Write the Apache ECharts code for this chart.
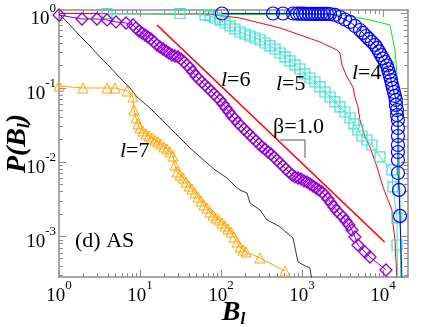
<!DOCTYPE html>
<html><head><meta charset="utf-8">
<script src="https://cdn.jsdelivr.net/npm/echarts@6/dist/echarts.min.js"></script>
<style>html,body{margin:0;padding:0;background:#fff}#c{width:423px;height:327px}</style>
</head><body><div id="c"></div>
<script>
// ---- data (values stored as log10 exponents) ----
// l=4 : blue circles
const l4_log10B = [2.012,2.642,2.765,2.889,2.938,2.975,3.012,3.049,3.086,3.123,3.160,3.198,3.235,3.272,3.309,3.346,3.407,3.469,3.531,3.593,3.654,3.716,3.753,3.790,3.827,3.864,3.901,3.926,3.951,3.975,4.000,4.025,4.049,4.062,4.074,4.086,4.099,4.111,4.123,4.136,4.148,4.160,4.160,4.173,4.173,4.185,4.185,4.185,4.185,4.185,4.185,4.185,4.198,4.210,4.235];
const l4_log10P = [0,0,0,0,-0.002,-0.003,-0.003,-0.004,-0.004,-0.005,-0.005,-0.005,-0.006,-0.006,-0.006,-0.007,-0.020,-0.047,-0.081,-0.114,-0.168,-0.222,-0.262,-0.303,-0.343,-0.384,-0.424,-0.464,-0.511,-0.559,-0.606,-0.653,-0.700,-0.747,-0.794,-0.841,-0.895,-0.949,-1.003,-1.057,-1.110,-1.164,-1.231,-1.299,-1.366,-1.433,-1.541,-1.649,-1.770,-1.864,-1.972,-2.147,-2.375,-2.725,-3.6];
// green line
const green_log10B = [0,3.506,3.840,4.086,4.148,4.185,4.198,4.210,4.222];
const green_log10P = [0,-0.020,-0.087,-0.155,-0.491,-0.989,-1.837,-2.510,-3.6];
// l=5 : turquoise squares
const l5_log10B = [0.593,1.494,1.802,1.864,1.926,1.988,2.049,2.111,2.173,2.235,2.296,2.358,2.420,2.481,2.543,2.605,2.667,2.728,2.790,2.852,2.914,2.975,3.037,3.099,3.160,3.222,3.284,3.346,3.407,3.469,3.531,3.593,3.642,3.691,3.741,3.802,3.864,3.963,4.111,4.123,4.173,4.173,4.185];
const l5_log10P = [0,0,-0.020,-0.034,-0.061,-0.087,-0.128,-0.168,-0.209,-0.249,-0.276,-0.303,-0.330,-0.357,-0.397,-0.437,-0.478,-0.532,-0.585,-0.639,-0.693,-0.747,-0.814,-0.868,-0.922,-0.989,-1.057,-1.124,-1.191,-1.258,-1.326,-1.407,-1.487,-1.568,-1.649,-1.703,-1.770,-1.931,-2.106,-2.335,-2.752,-3.116,-3.6];
// red line
const red_log10B = [0,1.827,2.235,2.728,2.975,3.222,3.432,3.469,3.494,3.556,3.630,3.654,3.691,3.716,3.778,3.840,3.926,4.000,4.062,4.111,4.123,4.148,4.173];
const red_log10P = [0,-0.007,-0.061,-0.195,-0.289,-0.384,-0.491,-0.532,-0.693,-0.855,-0.989,-1.124,-1.258,-1.433,-1.662,-1.797,-2.066,-2.335,-2.510,-2.645,-2.820,-3.048,-3.6];
// l=6 : violet diamonds
const l6_log10B = [0,0.284,0.469,0.593,0.704,0.827,0.914,0.951,0.988,1.025,1.062,1.099,1.136,1.173,1.210,1.247,1.284,1.321,1.358,1.395,1.432,1.469,1.506,1.543,1.580,1.617,1.654,1.691,1.728,1.765,1.802,1.840,1.877,1.914,1.951,1.988,2.025,2.062,2.099,2.136,2.173,2.210,2.247,2.284,2.321,2.358,2.395,2.432,2.469,2.506,2.543,2.580,2.617,2.654,2.691,2.728,2.765,2.802,2.840,2.877,2.914,2.951,2.988,3.025,3.062,3.099,3.136,3.173,3.210,3.247,3.284,3.321,3.358,3.395,3.432,3.469,3.506,3.543,3.580,3.617,3.654,3.691,3.778,3.840,4.037];
const l6_log10P = [-0.020,-0.074,-0.074,-0.087,-0.114,-0.128,-0.155,-0.195,-0.236,-0.262,-0.289,-0.316,-0.343,-0.384,-0.424,-0.451,-0.478,-0.505,-0.532,-0.559,-0.572,-0.585,-0.612,-0.653,-0.693,-0.734,-0.787,-0.841,-0.882,-0.922,-0.962,-1.003,-1.043,-1.084,-1.124,-1.164,-1.218,-1.272,-1.326,-1.380,-1.420,-1.474,-1.514,-1.555,-1.595,-1.635,-1.676,-1.716,-1.756,-1.797,-1.824,-1.864,-1.891,-1.931,-1.972,-2.012,-2.052,-2.093,-2.133,-2.174,-2.200,-2.214,-2.227,-2.254,-2.268,-2.295,-2.322,-2.349,-2.376,-2.402,-2.443,-2.497,-2.550,-2.604,-2.658,-2.699,-2.739,-2.793,-2.847,-2.914,-3.008,-3.116,-3.210,-3.277,-3.452];
// l=7 : orange triangles
const l7_log10B = [0,0.296,0.593,0.691,0.840,0.914,0.926,0.951,0.975,1.000,1.037,1.074,1.111,1.148,1.185,1.222,1.259,1.296,1.333,1.370,1.407,1.432,1.457,1.494,1.531,1.568,1.605,1.642,1.679,1.716,1.753,1.790,1.827,1.864,1.901,1.938,1.975,2.012,2.049,2.086,2.123,2.160,2.198,2.235,2.272,2.309,2.481,2.790];
const l7_log10P = [-0.976,-1.003,-1.003,-1.003,-1.043,-1.124,-1.299,-1.406,-1.487,-1.541,-1.581,-1.622,-1.649,-1.676,-1.703,-1.729,-1.756,-1.797,-1.824,-1.864,-1.918,-2.039,-2.133,-2.174,-2.214,-2.268,-2.322,-2.362,-2.416,-2.470,-2.524,-2.577,-2.618,-2.672,-2.712,-2.752,-2.779,-2.820,-2.860,-2.900,-2.941,-3.008,-3.075,-3.143,-3.183,-3.210,-3.291,-3.466];
// black line
const black_log10B = [0,0.136,0.259,0.383,0.506,0.630,0.753,0.877,0.963,1.123,1.247,1.370,1.494,1.617,1.741,1.827,1.926,2.074,2.173,2.235,2.321,2.358,2.481,2.568,2.667,2.728,2.889,2.951,3.037,3.099,3.123];
const black_log10P = [-0.007,-0.155,-0.303,-0.437,-0.585,-0.720,-0.868,-1.003,-1.124,-1.272,-1.406,-1.541,-1.676,-1.810,-1.931,-2.012,-2.106,-2.214,-2.322,-2.376,-2.416,-2.550,-2.645,-2.779,-2.833,-2.873,-3.022,-3.345,-3.398,-3.425,-3.6];
// reference slope line beta = 1.0 and its slope mark
const beta_log10B = [1.21, 4.02];
const beta_log10P = [-0.155, -3.075];
const slope_log10B = [2.728, 3.037, 3.037];
const slope_log10P = [-1.703, -1.703, -1.945];

// axes
const xRange = [1, 20370];
const yRange = [2.84e-4, 1.114];
const xTickExp = [0, 1, 2, 3, 4];
const yTickExp = [0, -1, -2, -3];

const FONT = 'Liberation Serif';
const AXC = '#8c8c8c';

function pts(lb, lp) { return lb.map((b, i) => [Math.pow(10, b), Math.pow(10, lp[i])]); }
function minorVals(lo, hi) {
  const out = [];
  for (let e = Math.floor(Math.log10(lo)); e <= Math.ceil(Math.log10(hi)); e++)
    for (let m = 2; m <= 9; m++) { const v = m * Math.pow(10, e); if (v > lo && v < hi) out.push(v); }
  return out;
}
const supLabel = v => '{b|10}{s|' + Math.round(Math.log10(v)) + '}';
const labelRich = {
  b: { fontFamily: FONT, fontSize: 19, lineHeight: 34, color: '#000' },
  s: { fontFamily: FONT, fontSize: 13, lineHeight: 13, verticalAlign: 'top', color: '#000' }
};

function axis(pos, range, exps, major, label, extra) {
  const majorVals = exps.map(e => Math.pow(10, e));
  return Object.assign({
    type: 'log', logBase: 10, min: range[0], max: range[1], position: pos,
    axisLine: { show: major, onZero: false, lineStyle: { color: AXC, width: 1.5 } },
    axisTick: { show: true, inside: true, length: major ? 7 : 4,
      customValues: major ? majorVals : minorVals(range[0], range[1]),
      lineStyle: { color: AXC, width: 1 } },
    axisLabel: label ? Object.assign({ show: true, customValues: majorVals, formatter: supLabel, rich: labelRich }, label) : { show: false },
    splitLine: { show: false }, minorTick: { show: false }, minorSplitLine: { show: false }
  }, extra || {});
}

const boldIt = { fontFamily: FONT, fontWeight: 'bold', fontStyle: 'italic', color: '#000' };

function lineSeries(data, color, width, z) {
  return { type: 'line', data, xAxisIndex: 0, yAxisIndex: 0, symbol: 'none',
    lineStyle: { color, width }, z, silent: true, emphasis: { disabled: true }, clip: true };
}
function markSeries(data, color, symbol, size, bw, z) {
  return { type: 'line', data, xAxisIndex: 0, yAxisIndex: 0, symbol, symbolSize: size,
    showSymbol: true, showAllSymbol: true,
    lineStyle: { color, width: 1 },
    itemStyle: { color: 'rgba(0,0,0,0)', borderColor: color, borderWidth: bw },
    z, silent: true, emphasis: { disabled: true }, clip: true };
}

const italicRich = {
  i: { fontFamily: FONT, fontStyle: 'italic', fontSize: 22, color: '#000' },
  n: { fontFamily: FONT, fontSize: 22, color: '#000' }
};
function note(x, y, text) {
  return { type: 'text', x, y, silent: true, z: 100,
    style: { text, rich: italicRich, fontFamily: FONT, fontSize: 22, fill: '#000', align: 'left', verticalAlign: 'middle' } };
}

const chart = echarts.init(document.getElementById('c'), null, { renderer: 'canvas' });
chart.setOption({
  animation: false,
  backgroundColor: '#fff',
  grid: { left: 59, right: 15, top: 10, bottom: 50, containLabel: false, outerBoundsMode: 'none' },
  xAxis: [
    axis('bottom', xRange, xTickExp, true, { margin: 2.5 }, {
      name: '{B|B}{l|l}', nameLocation: 'middle', nameGap: 21, nameMoveOverlap: false,
      nameTextStyle: { rich: {
        B: Object.assign({ fontSize: 28, lineHeight: 30 }, boldIt),
        l: Object.assign({ fontSize: 17, lineHeight: 22, verticalAlign: 'bottom' }, boldIt) } }
    }),
    axis('top', xRange, xTickExp, true, null),
    axis('bottom', xRange, xTickExp, false, null),
    axis('top', xRange, xTickExp, false, null)
  ],
  yAxis: [
    axis('left', yRange, yTickExp, true, { margin: 3, padding: [12, 0, 0, 0] }, {
      name: '{P|P(B}{l|l}{P|)}', nameLocation: 'middle', nameGap: 26, nameRotate: 90, nameMoveOverlap: false,
      nameTextStyle: { rich: {
        P: Object.assign({ fontSize: 28, lineHeight: 30 }, boldIt),
        l: Object.assign({ fontSize: 17, lineHeight: 22, verticalAlign: 'bottom' }, boldIt) } }
    }),
    axis('right', yRange, yTickExp, true, null),
    axis('left', yRange, yTickExp, false, null),
    axis('right', yRange, yTickExp, false, null)
  ],
  series: [
    lineSeries(pts(black_log10B, black_log10P), '#000000', 0.8, 2),
    markSeries(pts(l7_log10B, l7_log10P), '#ffa500', 'triangle', 10, 1, 3),
    lineSeries(pts(beta_log10B, beta_log10P), '#ff0000', 1.6, 4),
    lineSeries(pts(slope_log10B, slope_log10P), '#555555', 1, 4),
    lineSeries(pts(green_log10B, green_log10P), '#00ee00', 1, 5),
    lineSeries(pts(red_log10B, red_log10P), '#ff0000', 1, 6),
    markSeries(pts(l5_log10B, l5_log10P), '#40e0d0', 'rect', 10, 1.2, 7),
    markSeries(pts(l6_log10B, l6_log10P), '#9400d3', 'diamond', 12, 1.3, 8),
    markSeries(pts(l4_log10B, l4_log10P), '#0000ff', 'circle', 13, 1.2, 9)
  ],
  graphic: [
    note(221, 80, '{i|l}{n|=6}'),
    note(276, 84, '{i|l}{n|=5}'),
    note(352, 73, '{i|l}{n|=4}'),
    note(120, 151, '{i|l}{n|=7}'),
    note(273, 127, '{n|β=1.0}'),
    note(75, 241, '{n|(d) AS}')
  ]
});
</script></body></html>
